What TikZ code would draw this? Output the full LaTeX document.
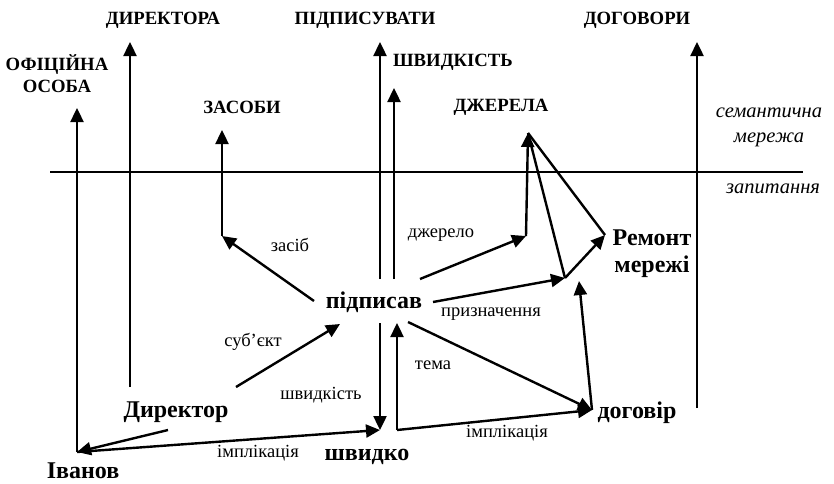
\documentclass[tikz,border=0pt]{standalone}
\usepackage{fontspec}
\setmainfont{Liberation Serif}
\usetikzlibrary{arrows.meta}
\tikzset{
  ln/.style={line width=2.4pt},
  ar/.style={line width=2.4pt,-{Triangle[length=14pt,width=13pt]}},
  capl/.style={font=\bfseries\fontsize{18.7}{22}\selectfont,inner sep=0pt,align=center},
  big/.style={font=\bfseries\fontsize{24}{27}\selectfont,inner sep=0pt,align=center},
  lab/.style={font=\fontsize{18.5}{21}\selectfont,inner sep=0pt},
  itl/.style={font=\itshape\fontsize{20.5}{24}\selectfont,inner sep=0pt}
}
\begin{document}
\begin{tikzpicture}[x=1pt,y=-1pt]
\useasboundingbox (0,0) rectangle (834,483);
% horizontal separator
\coordinate (hl) at (50,172); \coordinate (hr) at (803,172);
\draw[ln] (hl) -- (hr);
% top labels
\node[capl] (lDir) at (163,20) {ДИРЕКТОРА};
\node[capl] (lPid) at (365,20) {ПІДПИСУВАТИ};
\node[capl] (lDog) at (637,20) {ДОГОВОРИ};
\node[capl] (lOf) at (57,74) {ОФІЦІЙНА\\ОСОБА};
\node[capl] (lShv) at (453,62) {ШВИДКІСТЬ};
\node[capl] (lZas) at (242,107) {ЗАСОБИ};
\node[capl] (lDj) at (501,107) {ДЖЕРЕЛА};
\node[itl] (sem) at (769,113) {семантична};
\node[itl] (mer) at (769,140) {мережа};
\node[itl] (zap) at (773,189) {запитання};
% main nodes
\node[big] (pid) at (374,302) {підписав};
\node[big] (dir) at (176,412) {Директор};
\node[big] (shv) at (367,457) {швидко};
\node[big] (iv) at (83,471) {Іванов};
\node[big] (dog) at (637,413) {договір};
\node[big] (rem) at (652,254) {Ремонт\\мережі};
% coordinates
\coordinate (ivP) at (77,452);
\coordinate (t1) at (77,108);
\coordinate (d0) at (130,387); \coordinate (t2) at (130,42);
\coordinate (zs) at (222,236); \coordinate (t3) at (222,130);
\coordinate (p4) at (380,279); \coordinate (t4) at (380,42);
\coordinate (p5) at (394,279); \coordinate (t5) at (394,88);
\coordinate (dj) at (526,236); \coordinate (t6) at (528,133);
\coordinate (dg) at (697,408); \coordinate (t7) at (697,42);
\coordinate (pidA) at (314,301);
\coordinate (dirA) at (236,387); \coordinate (pidB) at (340,324);
\coordinate (pidC) at (380,323); \coordinate (shvA) at (380,430);
\coordinate (shvB) at (397,430); \coordinate (pidD) at (397,323);
\coordinate (pidE) at (408,322); \coordinate (dogA) at (592,410);
\coordinate (dirB) at (168,430);
\coordinate (pidF) at (420,279);
\coordinate (pidG) at (433,302); \coordinate (P) at (565,278);
\coordinate (remA) at (605,235);
\coordinate (P2) at (579,281);
% vertical arrows
\draw[ar] (ivP) -- (t1);
\draw[ar] (d0) -- (t2);
\draw[ar] (zs) -- (t3);
\draw[ar] (p4) -- (t4);
\draw[ar] (p5) -- (t5);
\draw[ar] (dj) -- (t6);
\draw[ar] (dg) -- (t7);
% edges
\draw[ar] (pidA) -- (zs);
\node[lab] (eZ) at (290,245) {засіб};
\draw[ar] (dirA) -- (pidB);
\node[lab] (eS) at (253,342) {суб’єкт};
\draw[ar] (pidC) -- (shvA);
\node[lab] (eSh) at (321,395) {швидкість};
\draw[ar] (shvB) -- (pidD);
\node[lab] (eT) at (433,365) {тема};
\draw[ar] (pidE) -- (dogA);
\draw[ar] (shvB) -- (dogA);
\node[lab] (eI2) at (507,433) {імплікація};
\draw[ar] (dirB) -- (ivP);
\draw[ar] (ivP) -- (shvA);
\node[lab] (eI1) at (258,453) {імплікація};
\draw[ar] (pidF) -- (dj);
\node[lab] (eDj) at (441,235) {джерело};
\draw[ar] (pidG) -- (P);
\node[lab] (ePr) at (491,314) {призначення};
\draw[ar] (P) -- (remA);
\draw[ar] (dogA) -- (P2);
\draw[ln] (P) -- (t6);
\draw[ln] (remA) -- (t6);
\end{tikzpicture}
\end{document}
